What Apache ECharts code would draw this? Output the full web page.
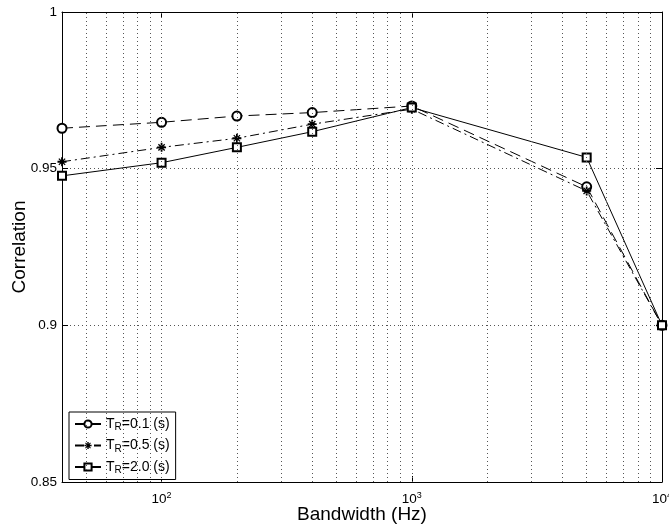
<!DOCTYPE html>
<html>
<head>
<meta charset="utf-8">
<script src="https://cdn.jsdelivr.net/npm/echarts@6/dist/echarts.min.js"></script>
<style>html,body{margin:0;padding:0;background:#fff}#c{width:669px;height:529px}</style>
</head>
<body>
<div id="c"></div>
<script>
var bandwidth = [40, 100, 200, 400, 1000, 5000, 10000];
var corrTR01 = [0.9629, 0.9648, 0.9668, 0.9679, 0.9700, 0.9442, 0.9000];
var corrTR05 = [0.9522, 0.9568, 0.9597, 0.9642, 0.9690, 0.9429, 0.9000];
var corrTR20 = [0.9477, 0.9519, 0.9568, 0.9618, 0.9695, 0.9536, 0.9000];
var seriesNames = ['TR=0.1 (s)', 'TR=0.5 (s)', 'TR=2.0 (s)'];
var legendLabels = ['T{sub|R}=0.1 (s)', 'T{sub|R}=0.5 (s)', 'T{sub|R}=2.0 (s)'];
var xGridValues = [50, 60, 70, 80, 90, 100, 200, 300, 400, 500, 600, 700, 800, 900, 1000,
                   2000, 3000, 4000, 5000, 6000, 7000, 8000, 9000];

var FONT = 'Liberation Sans, Arial, Helvetica, sans-serif';
var starPath = 'path://M-1,-5H1V5H-1Z M-5,-1H5V1H-5Z M-3,-4L4,3L3,4L-4,-3Z M-4,3L3,-4L4,-3L-3,4Z';

function pairs(ys) { return bandwidth.map(function (x, i) { return [x, ys[i]]; }); }

var chart = echarts.init(document.getElementById('c'), null, {renderer: 'canvas'});
var option = {
  backgroundColor: '#fff',
  animation: false,
  textStyle: {fontFamily: FONT},
  grid: {left: 62, right: 7, top: 12, bottom: 47, containLabel: false, outerBoundsMode: 'none'},
  xAxis: [{
    type: 'log', logBase: 10, min: 40, max: 10000,
    name: 'Bandwidth (Hz)', nameLocation: 'middle', nameGap: 23, nameMoveOverlap: false,
    nameTextStyle: {fontSize: 19, color: '#000', fontFamily: FONT},
    axisLine: {lineStyle: {color: '#000', width: 1}},
    axisTick: {inside: true, length: 6, lineStyle: {color: '#000'}},
    splitLine: {show: false},
    minorTick: {show: false},
    axisLabel: {
      color: '#000', fontSize: 13.5, fontFamily: FONT, margin: 9,
      formatter: function (v) {
        var l = Math.log10(v);
        if (Math.abs(l - Math.round(l)) < 1e-6) return '10{sup|' + Math.round(l) + '}';
        return '';
      },
      rich: {sup: {fontSize: 9, padding: [0, 0, 8, 0], color: '#000', fontFamily: FONT}}
    }
  }, {
    type: 'log', logBase: 10, min: 40, max: 10000, position: 'top',
    axisLine: {lineStyle: {color: '#000', width: 1}},
    axisTick: {inside: true, length: 6, lineStyle: {color: '#000'}},
    axisLabel: {show: false}, splitLine: {show: false}
  }],
  yAxis: [{
    type: 'value', min: 0.85, max: 1, interval: 0.05,
    name: 'Correlation', nameLocation: 'middle', nameGap: 33, nameMoveOverlap: false,
    nameTextStyle: {fontSize: 19, color: '#000', fontFamily: FONT},
    axisLine: {show: true, lineStyle: {color: '#000', width: 1}},
    axisTick: {show: true, inside: true, length: 6, lineStyle: {color: '#000'}},
    axisLabel: {color: '#000', fontSize: 13.5, fontFamily: FONT, margin: 5,
      formatter: function (v) { return String(+v.toFixed(2)); }},
    splitLine: {show: true, lineStyle: {color: '#555', type: [1, 3], width: 1}}
  }, {
    type: 'value', min: 0.85, max: 1, interval: 0.05, position: 'right',
    axisLine: {show: true, lineStyle: {color: '#000', width: 1}},
    axisTick: {show: true, inside: true, length: 6, lineStyle: {color: '#000'}},
    axisLabel: {show: false}, splitLine: {show: false}
  }],
  legend: {
    orient: 'vertical', left: 69, top: 412,
    backgroundColor: '#fff', borderColor: '#000', borderWidth: 1,
    padding: [5, 6, 4, 5], itemGap: 6, itemWidth: 26, itemHeight: 9,
    data: seriesNames,
    formatter: function (name) { return legendLabels[seriesNames.indexOf(name)]; },
    textStyle: {color: '#000', fontSize: 14, fontFamily: FONT,
      rich: {sub: {fontSize: 10, padding: [7, 0, 0, 0], color: '#000', fontFamily: FONT}}}
  },
  series: [{
    name: seriesNames[0], type: 'line', data: pairs(corrTR01), z: 3,
    symbol: 'emptyCircle', symbolSize: 9,
    lineStyle: {color: '#000', width: 1, type: [11, 6]},
    itemStyle: {color: '#000', borderColor: '#000', borderWidth: 1},
    markLine: {
      silent: true, symbol: 'none', label: {show: false}, animation: false,
      lineStyle: {color: '#555', type: [1, 3], width: 1},
      data: xGridValues.map(function (v) { return {xAxis: v}; })
    }
  }, {
    name: seriesNames[1], type: 'line', data: pairs(corrTR05), z: 3,
    symbol: starPath, symbolSize: 9,
    lineStyle: {color: '#000', width: 1, type: [9, 4, 2, 4]},
    itemStyle: {color: '#000'}
  }, {
    name: seriesNames[2], type: 'line', data: pairs(corrTR20), z: 3,
    symbol: 'emptyRect', symbolSize: 8,
    lineStyle: {color: '#000', width: 1, type: 'solid'},
    itemStyle: {color: '#000', borderColor: '#000', borderWidth: 1}
  }]
};
chart.setOption(option);
</script>
</body>
</html>
